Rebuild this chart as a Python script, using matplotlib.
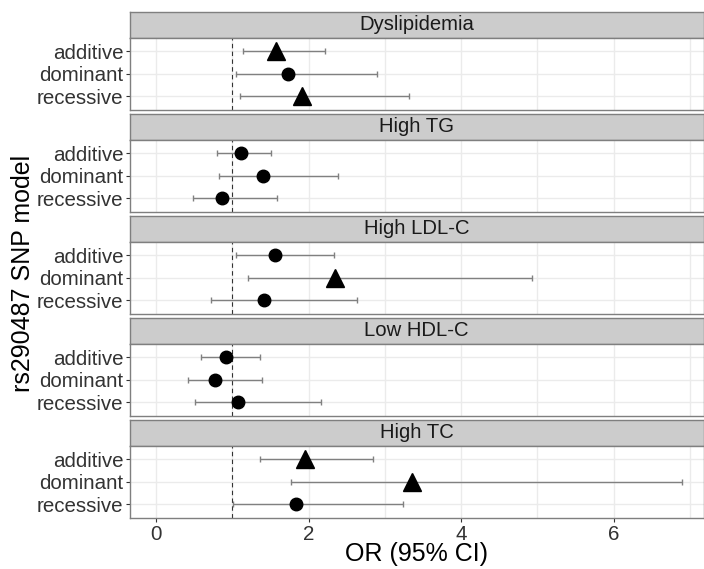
import matplotlib
matplotlib.use("Agg")
import matplotlib.pyplot as plt
from matplotlib.ticker import MultipleLocator

# ---- data ----
OUTCOMES = ["Dyslipidemia", "High TG", "High LDL-C", "Low HDL-C", "High TC"]
MODELS = ["additive", "dominant", "recessive"]

OR_VALUES = [
    [1.57, 1.73, 1.91],
    [1.11, 1.40, 0.87],
    [1.56, 2.34, 1.42],
    [0.91, 0.77, 1.07],
    [1.95, 3.36, 1.83],
]
CI_LOWER = [
    [1.14, 1.05, 1.10],
    [0.80, 0.82, 0.48],
    [1.05, 1.20, 0.72],
    [0.59, 0.42, 0.51],
    [1.36, 1.77, 1.01],
]
CI_UPPER = [
    [2.21, 2.90, 3.32],
    [1.50, 2.39, 1.59],
    [2.33, 4.93, 2.64],
    [1.36, 1.39, 2.16],
    [2.84, 6.90, 3.24],
]
# True -> triangle, False -> circle
SIGNIFICANT = [
    [True, False, True],
    [False, False, False],
    [False, True, False],
    [False, False, False],
    [True, True, False],
]

X_TICKS = [0, 2, 4, 6]

# ---- layout (pixels) ----
W, H, DPI = 704, 569, 100
LEFT, RIGHT = 129.5, 703.5
TOP0 = 12
STRIP_H, PANEL_H, GAP = 25.5, 72.5, 4

plt.rcParams["font.family"] = ["Liberation Sans", "DejaVu Sans"]

fig = plt.figure(figsize=(W / DPI, H / DPI), dpi=DPI)

BORDER = "#7f7f7f"
STRIP_FILL = "#cccccc"
GRID = "#ebebeb"


def fx(px):
    return px / W


def fy(py):
    return 1 - py / H


for i, name in enumerate(OUTCOMES):
    strip_top = TOP0 + i * (STRIP_H + PANEL_H + GAP)
    panel_top = strip_top + STRIP_H
    panel_bot = panel_top + PANEL_H

    # strip
    sax = fig.add_axes([fx(LEFT), fy(panel_top), fx(RIGHT - LEFT), STRIP_H / H])
    sax.set_facecolor(STRIP_FILL)
    sax.set_xticks([])
    sax.set_yticks([])
    for sp in sax.spines.values():
        sp.set_color(BORDER)
        sp.set_linewidth(1.0)
    sax.text(0.5, 0.5, name, ha="center", va="center", fontsize=14.6,
             color="#1a1a1a", transform=sax.transAxes)

    # panel
    ax = fig.add_axes([fx(LEFT), fy(panel_bot), fx(RIGHT - LEFT), PANEL_H / H])
    ypos = list(range(len(MODELS)))
    ax.set_xlim(-0.35, 7.18)
    ax.set_ylim(len(MODELS) - 1 + 0.6, -0.6)
    ax.xaxis.set_major_locator(MultipleLocator(2))
    ax.xaxis.set_minor_locator(MultipleLocator(1))
    ax.grid(True, which="both", axis="x", color=GRID, linewidth=1.0)
    ax.grid(True, which="major", axis="y", color=GRID, linewidth=1.0)
    ax.set_axisbelow(True)

    ax.axvline(1, color="#333333", linestyle=(0, (4, 3)), linewidth=0.8, zorder=2)

    for j, y in enumerate(ypos):
        orv = OR_VALUES[i][j]
        lo = CI_LOWER[i][j]
        hi = CI_UPPER[i][j]
        ax.errorbar([orv], [y], xerr=[[orv - lo], [hi - orv]], fmt="none",
                    ecolor="#808080", elinewidth=1.0, capsize=2.2,
                    capthick=1.0, zorder=3)
        if SIGNIFICANT[i][j]:
            ax.plot([orv], [y], marker="^", markersize=12.5, color="black",
                    linestyle="none", zorder=4)
        else:
            ax.plot([orv], [y], marker="o", markersize=9, color="black",
                    linestyle="none", zorder=4)

    ax.set_yticks(ypos)
    ax.set_yticklabels(MODELS, fontsize=14.8, color="#333333")
    ax.tick_params(axis="y", length=3, color="#333333", pad=1.5)
    ax.tick_params(axis="x", which="minor", length=0)
    if i == len(OUTCOMES) - 1:
        ax.set_xticks(X_TICKS)
        ax.set_xticklabels([str(t) for t in X_TICKS], fontsize=14.8,
                           color="#333333")
        ax.tick_params(axis="x", which="major", length=3, color="#333333",
                       pad=2)
    else:
        ax.tick_params(axis="x", which="major", length=0, labelbottom=False)
    for sp in ax.spines.values():
        sp.set_color(BORDER)
        sp.set_linewidth(1.0)

fig.text(fx((LEFT + RIGHT) / 2), fy(554), "OR (95% CI)", ha="center",
         va="center", fontsize=18, color="black")
fig.text(fx(23), fy(273), "rs290487 SNP model", ha="center", va="center",
         rotation=90, fontsize=18, color="black")

fig.savefig("out.png", dpi=DPI)
